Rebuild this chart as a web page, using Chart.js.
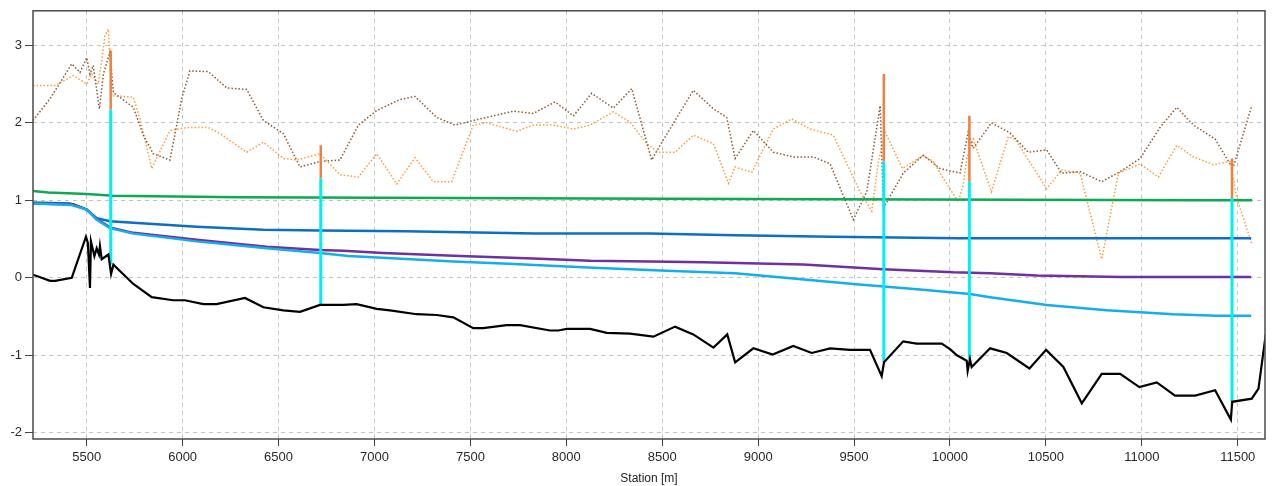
<!DOCTYPE html>
<html>
<head>
<meta charset="utf-8">
<script src="https://cdn.jsdelivr.net/npm/chart.js@4/dist/chart.umd.min.js"></script>
<style>
    body { margin: 0; background: #fff; }
    #wrap { width: 1273px; height: 486px; }
</style>
</head>
<body>
<div id="wrap"><canvas id="profileChart" width="1273" height="486"></canvas></div>
<script>
// Longitudinal profile: bed, water levels, banks and structures

const xTicks = [5500, 6000, 6500, 7000, 7500, 8000, 8500, 9000, 9500, 10000, 10500, 11000, 11500];
const yTicks = [-2, -1, 0, 1, 2, 3];

// bed (black)
const bedStation = [5220, 5309, 5335, 5422, 5496, 5506, 5517, 5522, 5540, 5552, 5564, 5569, 5578, 5613, 5627, 5639,
    5743, 5839, 5951, 6012, 6108, 6177, 6325, 6421, 6525, 6612, 6716, 6838, 6907, 7012, 7081, 7220, 7324, 7411,
    7515, 7567, 7689, 7759, 7915, 7958, 8002, 8124, 8211, 8332, 8454, 8567, 8662, 8767, 8839, 8880, 8975, 9076,
    9183, 9279, 9375, 9479, 9583, 9644, 9656, 9756, 9826, 9957, 10000, 10036, 10087, 10092, 10104, 10113, 10209,
    10296, 10414, 10501, 10591, 10687, 10791, 10887, 10987, 11078, 11173, 11278, 11382, 11464, 11471, 11573,
    11608, 11646];
const bedLevel = [0.04, -0.04, -0.04, 0.00, 0.53, 0.45, -0.13, 0.47, 0.28, 0.38, 0.30, 0.41, 0.24, 0.30, 0.05, 0.17,
    -0.08, -0.25, -0.29, -0.29, -0.34, -0.34, -0.26, -0.38, -0.42, -0.44, -0.35, -0.35, -0.34, -0.40, -0.42, -0.47,
    -0.48, -0.51, -0.65, -0.65, -0.61, -0.61, -0.68, -0.68, -0.66, -0.66, -0.71, -0.72, -0.76, -0.63, -0.73, -0.90,
    -0.73, -1.09, -0.91, -0.99, -0.88, -0.97, -0.91, -0.93, -0.93, -1.27, -1.09, -0.82, -0.85, -0.85, -0.92, -1.00,
    -1.07, -1.20, -1.05, -1.15, -0.91, -0.97, -1.17, -0.93, -1.15, -1.62, -1.24, -1.24, -1.41, -1.35, -1.52, -1.52,
    -1.45, -1.83, -1.60, -1.56, -1.43, -0.73];

// water level (light blue)
const wsStation = [5220, 5420, 5500, 5552, 5621, 5743, 6073, 6438, 6716, 6864, 7116, 7411, 7698, 8141, 8523, 8880,
    9183, 9496, 9844, 10104, 10209, 10504, 10817, 11164, 11390, 11570];
const wsLevel = [0.96, 0.94, 0.88, 0.75, 0.64, 0.57, 0.47, 0.38, 0.32, 0.28, 0.25, 0.21, 0.18, 0.13, 0.09, 0.06,
    -0.01, -0.08, -0.15, -0.21, -0.25, -0.35, -0.42, -0.47, -0.49, -0.49];

// purple level
const purpleStation = [5220, 5430, 5500, 5552, 5621, 5743, 6073, 6438, 6716, 6838, 7046, 7446, 7828, 8124, 8436,
    8714, 9235, 9653, 10018, 10209, 10452, 10887, 11570];
const purpleLevel = [0.96, 0.95, 0.88, 0.76, 0.65, 0.58, 0.49, 0.40, 0.36, 0.35, 0.32, 0.28, 0.25, 0.22, 0.21,
    0.20, 0.17, 0.11, 0.07, 0.06, 0.03, 0.01, 0.01];

// blue level
const blueStation = [5220, 5413, 5500, 5552, 5621, 5743, 6073, 6421, 6716, 7159, 7837, 8436, 8880, 9383, 10043, 11570];
const blueLevel = [0.97, 0.96, 0.88, 0.77, 0.73, 0.71, 0.66, 0.62, 0.61, 0.60, 0.57, 0.57, 0.55, 0.53, 0.51, 0.51];

// green level
const greenStation = [5220, 5300, 5500, 5640, 6290, 8490, 11280, 11575];
const greenLevel = [1.12, 1.10, 1.08, 1.06, 1.04, 1.02, 1.00, 1.00];

// left bank (brown dotted)
const lbStation = [5220, 5309, 5422, 5465, 5500, 5517, 5534, 5566, 5587, 5621, 5639, 5743, 5795, 5847, 5934, 5995,
    6038, 6134, 6230, 6334, 6421, 6525, 6612, 6716, 6820, 6916, 7012, 7133, 7211, 7324, 7419, 7550, 7724, 7828,
    7941, 8037, 8132, 8245, 8341, 8445, 8489, 8662, 8767, 8836, 8880, 8975, 9079, 9183, 9288, 9375, 9496, 9566,
    9636, 9653, 9756, 9860, 9948, 10052, 10095, 10121, 10216, 10313, 10408, 10504, 10582, 10678, 10791, 10887,
    10991, 11095, 11182, 11269, 11382, 11460, 11477, 11573];
const lbLevel = [2.03, 2.31, 2.76, 2.65, 2.84, 2.63, 2.74, 2.18, 2.63, 2.91, 2.39, 2.20, 1.84, 1.60, 1.52, 2.31,
    2.67, 2.66, 2.45, 2.43, 2.03, 1.86, 1.43, 1.50, 1.52, 1.97, 2.16, 2.30, 2.34, 2.07, 1.97, 2.05, 2.15, 2.12,
    2.27, 2.09, 2.38, 2.19, 2.44, 1.52, 1.71, 2.42, 2.18, 2.07, 1.54, 1.90, 1.62, 1.56, 1.56, 1.47, 0.75, 1.11,
    2.22, 0.90, 1.35, 1.58, 1.41, 1.35, 1.88, 1.67, 2.00, 1.87, 1.62, 1.65, 1.35, 1.37, 1.24, 1.37,
    1.54, 1.94, 2.20, 1.97, 1.79, 1.47, 1.43, 2.22];

// right bank (orange dotted)
const rbStation = [5220, 5335, 5430, 5500, 5526, 5560, 5578, 5595, 5613, 5630, 5743, 5778, 5839, 5934, 6021, 6134,
    6195, 6334, 6421, 6525, 6595, 6716, 6820, 6916, 7012, 7116, 7211, 7307, 7402, 7515, 7585, 7741, 7828, 7932,
    8037, 8124, 8245, 8332, 8419, 8480, 8567, 8662, 8767, 8845, 8880, 8967, 9079, 9175, 9270, 9392, 9531, 9592,
    9627, 9662, 9752, 9860, 9913, 9966, 10043, 10069, 10087, 10121, 10216, 10304, 10339, 10504, 10582, 10678,
    10791, 10878, 10991, 11086, 11182, 11269, 11373, 11460, 11495, 11573];
const rbLevel = [2.48, 2.48, 2.61, 2.50, 2.63, 2.50, 2.80, 3.12, 3.21, 2.35, 2.33, 2.05, 1.41, 1.90, 1.94, 1.94,
    1.86, 1.62, 1.75, 1.54, 1.52, 1.60, 1.33, 1.30, 1.60, 1.21, 1.55, 1.24, 1.24, 1.97, 2.00, 1.89, 1.97, 1.97,
    1.92, 1.97, 2.14, 2.01, 1.73, 1.62, 1.62, 1.84, 1.73, 1.22, 1.43, 1.36, 1.92, 2.05, 1.92, 1.84, 1.11, 0.86,
    1.50, 1.88, 1.41, 1.58, 1.50, 1.28, 0.98, 1.20, 1.54, 1.79, 1.11, 1.82, 1.79, 1.15, 1.39, 1.35,
    0.24, 1.35, 1.47, 1.30, 1.71, 1.56, 1.46, 1.50, 1.03, 0.44];

// structures: cyan from bottom to mid, orange from mid to top
const structStation = [5625, 6720, 9655, 10101, 11470];
const structBottom = [0.17, -0.35, -1.09, -1.05, -1.60];
const structMid = [2.17, 1.28, 1.50, 1.24, 1.03];
const structTop = [2.93, 1.71, 2.63, 2.09, 1.54];

function pts(xs, ys) {
    return xs.map((x, i) => ({ x: x, y: ys[i] }));
}

function segments(xs, lo, hi) {
    const out = [];
    xs.forEach((x, i) => {
        out.push({ x: x, y: lo[i] }, { x: x, y: hi[i] }, { x: x, y: null });
    });
    return out;
}

function lineSet(data, color, width, dash) {
    return {
        data: data,
        borderColor: color,
        borderWidth: width,
        borderDash: dash || [],
        pointRadius: 0,
        tension: 0,
        fill: false,
        spanGaps: false
    };
}

// draws the box around the plot area
const frame = {
    id: 'frame',
    afterDraw(chart) {
        const a = chart.chartArea;
        const ctx = chart.ctx;
        ctx.save();
        ctx.strokeStyle = '#4a4a4a';
        ctx.lineWidth = 1.5;
        ctx.strokeRect(a.left, a.top, a.right - a.left, a.bottom - a.top);
        ctx.restore();
    }
};

const tickFont = { family: '"Liberation Sans", Arial, sans-serif', size: 13 };

new Chart(document.getElementById('profileChart'), {
    type: 'line',
    data: {
        datasets: [
            lineSet(pts(bedStation, bedLevel), '#000000', 2.2),
            lineSet(segments(structStation, structBottom, structMid), '#00F0F0', 3),
            lineSet(segments(structStation, structMid, structTop), '#F08040', 2.5),
            lineSet(pts(wsStation, wsLevel), '#14AEEC', 2.5),
            lineSet(pts(purpleStation, purpleLevel), '#7030A0', 2.5),
            lineSet(pts(blueStation, blueLevel), '#0E6EC4', 2.5),
            lineSet(pts(greenStation, greenLevel), '#0DAA50', 2.5),
            lineSet(pts(lbStation, lbLevel), '#8A5A30', 1.5, [1.5, 2]),
            lineSet(pts(rbStation, rbLevel), '#FF9A3C', 1.5, [1.5, 2])
        ]
    },
    options: {
        responsive: false,
        animation: false,
        events: [],
        layout: { padding: { top: 8, right: 8, left: 0, bottom: 0 } },
        plugins: {
            legend: { display: false },
            tooltip: { enabled: false }
        },
        scales: {
            x: {
                type: 'linear',
                min: 5220,
                max: 11642,
                afterBuildTicks: axis => { axis.ticks = xTicks.map(v => ({ value: v })); },
                afterFit: axis => { axis.height = 47; },
                ticks: {
                    font: tickFont,
                    color: '#2a2a2a',
                    padding: 4,
                    maxRotation: 0,
                    autoSkip: false,
                    callback: v => String(v)
                },
                grid: {
                    color: '#c4c4c4',
                    tickColor: '#444',
                    tickLength: 7,
                    lineWidth: 1
                },
                border: { display: false, dash: [4, 4] },
                title: {
                    display: true,
                    text: 'Station [m]',
                    font: { family: '"Liberation Sans", Arial, sans-serif', size: 12 },
                    color: '#222',
                    padding: { top: 0, bottom: 0 }
                }
            },
            y: {
                type: 'linear',
                min: -2.08,
                max: 3.445,
                afterBuildTicks: axis => { axis.ticks = yTicks.map(v => ({ value: v })); },
                afterFit: axis => { axis.width = 33; },
                ticks: {
                    font: tickFont,
                    color: '#2a2a2a',
                    padding: 3,
                    callback: v => String(v)
                },
                grid: {
                    color: '#c4c4c4',
                    tickColor: '#444',
                    tickLength: 8,
                    lineWidth: 1
                },
                border: { display: false, dash: [4, 4] }
            }
        }
    },
    plugins: [frame]
});
</script>
</body>
</html>
